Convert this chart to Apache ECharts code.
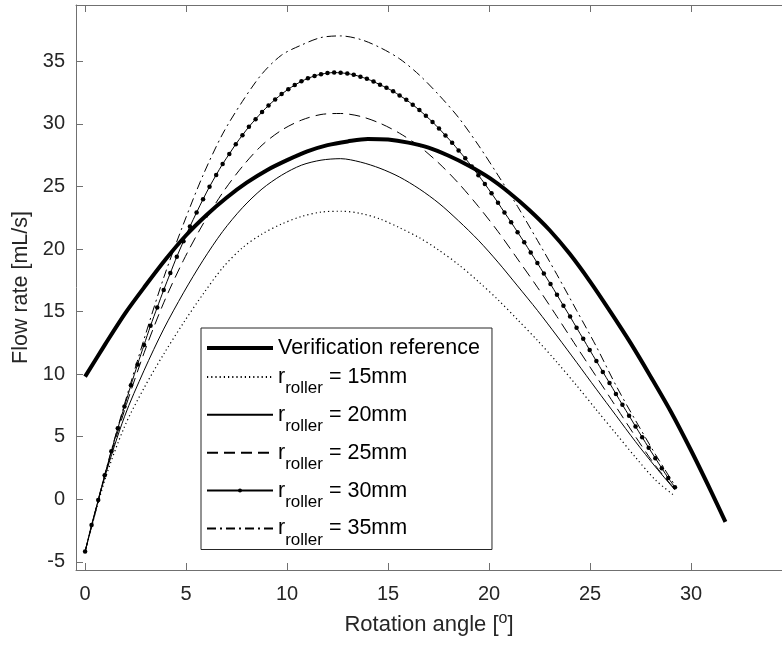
<!DOCTYPE html>
<html>
<head>
<meta charset="utf-8">
<title>Flow rate vs rotation angle</title>
<script src="https://cdn.jsdelivr.net/npm/echarts@6/dist/echarts.min.js"></script>
<style>
html,body{margin:0;padding:0;background:#fff;}
#chart{width:782px;height:645px;}
</style>
</head>
<body>
<div id="chart"></div>
<script>
// verification reference curve
var refAngle = [0,1,2,3,4,5,6,7,8,9,10,11,12,13,14,15,16,17,18,19,20,21,22,23,24,25,26,27,28,29,30,31,31.7];
var refFlow = [9.8,12.4,14.9,17.1,19.2,21.1,22.7,24.1,25.3,26.3,27.1,27.8,28.3,28.6,28.8,28.75,28.5,28.1,27.45,26.65,
  25.7,24.5,23.1,21.5,19.6,17.4,15.0,12.5,9.8,7.0,3.9,0.6,-1.8];

// roller curves (coarse sampling)
var rollerAngle = [0,0.97,1.95,2.92,3.89,4.87,5.84,6.81,7.79,8.76,9.73,10.71,11.68,12.65,13.63,14.60,
  15.57,16.55,17.52,18.49,19.47,20.44,21.41,22.39,23.36,24.33,25.31,26.28,27.25,28.23,29.20];
var flow15 = [-4.2,1.5,5.8,8.9,11.6,14.1,16.4,18.5,20.1,21.2,22.0,22.6,22.95,23.02,22.85,22.4,
  21.7,20.9,19.9,18.75,17.4,15.95,14.35,12.7,10.95,9.1,7.15,5.25,3.35,1.55,0.25];
var flow20 = [-4.2,1.75,6.6,10.3,13.6,16.5,19.1,21.4,23.3,24.8,25.9,26.7,27.1,27.22,26.95,26.45,
  25.75,24.8,23.65,22.25,20.7,18.95,17.05,15.1,13.05,10.95,8.8,6.7,4.6,2.6,0.75];
var flow25 = [-4.2,1.85,7.1,11.7,15.7,19.1,22.0,24.5,26.6,28.3,29.5,30.3,30.75,30.83,30.6,30.05,
  29.25,28.2,26.85,25.25,23.4,21.4,19.2,16.95,14.6,12.2,9.8,7.4,5.0,2.7,0.8];
var flow35 = [-4.2,1.95,7.6,12.8,17.7,22.0,25.9,29.2,31.8,34.0,35.5,36.3,36.9,37.03,36.75,36.1,
  35.2,33.9,32.3,30.5,28.3,25.9,23.4,20.7,17.95,15.1,12.2,9.1,6.3,3.6,1.1];

// r = 30mm curve, drawn with a marker at every sample
var rollerAngleFine = [0,0.32,0.65,0.97,1.30,1.62,1.95,2.27,2.60,2.92,
  3.24,3.57,3.89,4.22,4.54,4.87,5.19,5.52,5.84,6.16,
  6.49,6.81,7.14,7.46,7.79,8.11,8.44,8.76,9.08,9.41,
  9.73,10.06,10.38,10.71,11.03,11.36,11.68,12.00,12.33,12.65,
  12.98,13.30,13.63,13.95,14.28,14.60,14.92,15.25,15.57,15.90,
  16.22,16.55,16.87,17.20,17.52,17.84,18.17,18.49,18.82,19.14,
  19.47,19.79,20.12,20.44,20.76,21.09,21.41,21.74,22.06,22.39,
  22.71,23.04,23.36,23.68,24.01,24.33,24.66,24.98,25.31,25.63,
  25.96,26.28,26.60,26.93,27.25,27.58,27.90,28.23,28.55,28.87,29.20];
var flow30 = [-4.18,-2.05,-0.06,1.92,3.84,5.67,7.42,9.12,10.78,12.34,
  13.87,15.33,16.72,18.08,19.38,20.62,21.80,22.92,23.98,24.98,
  25.92,26.80,27.60,28.38,29.10,29.77,30.38,30.95,31.47,31.95,
  32.38,32.77,33.10,33.40,33.64,33.83,33.97,34.06,34.10,34.08,
  34.02,33.92,33.77,33.60,33.38,33.13,32.88,32.60,32.27,31.92,
  31.53,31.10,30.64,30.15,29.63,29.07,28.50,27.88,27.25,26.60,
  25.90,25.20,24.45,23.70,22.92,22.14,21.35,20.54,19.72,18.88,
  18.04,17.20,16.34,15.47,14.60,13.71,12.82,11.93,11.05,10.18,
  9.30,8.42,7.55,6.68,5.82,4.96,4.12,3.29,2.48,1.70,0.96];

var seriesNames = ['Verification reference','r_roller = 15mm','r_roller = 20mm','r_roller = 25mm','r_roller = 30mm','r_roller = 35mm'];

var font = 'Liberation Sans, Arial, Helvetica, sans-serif';
var axisColor = '#707070';
var textColor = '#262626';

function zip(xs, ys){
  var out = [];
  for(var i=0;i<xs.length;i++){
    out.push([xs[i], ys[i]]);
  }
  return out;
}
function tickFmt(v){
  return (Math.abs(v % 5) < 1e-9) ? String(v) : '';
}

var myChart = echarts.init(document.getElementById('chart'), null, {renderer:'canvas'});

// legend entries: only the 30mm one keeps its dot
var legendData = [
  {name: seriesNames[0], itemStyle: {opacity: 0}, lineStyle: {width: 4}},
  {name: seriesNames[1], itemStyle: {opacity: 0}},
  {name: seriesNames[2], itemStyle: {opacity: 0}},
  {name: seriesNames[3], itemStyle: {opacity: 0}},
  {name: seriesNames[4]},
  {name: seriesNames[5], itemStyle: {opacity: 0}}
];

var option = {
  animation: false,
  backgroundColor: '#fff',
  grid: {left: 76, right: -8, top: 5, bottom: 75},
  legend: {
    orient: 'vertical',
    left: 201,
    top: 328,
    padding: [9, 12, 1, 4],
    itemGap: 6.9,
    itemWidth: 66,
    itemHeight: 5,
    selectedMode: false,
    backgroundColor: '#fff',
    borderColor: '#262626',
    borderWidth: 1,
    borderRadius: 0,
    data: legendData,
    formatter: function(name){
      if(name.indexOf('r_roller') === 0){
        return '{m|r}{s|roller}{m|' + name.slice(8) + '}';
      }
      return '{v|' + name + '}';
    },
    textStyle: {
      fontFamily: font,
      color: '#000',
      fontSize: 21.5,
      rich: {
        v: {fontFamily: font, fontSize: 21.5, color: '#000', lineHeight: 36},
        m: {fontFamily: font, fontSize: 21.5, color: '#000', lineHeight: 40, verticalAlign: 'middle'},
        s: {fontFamily: font, fontSize: 17, color: '#000', lineHeight: 20, verticalAlign: 'bottom'}
      }
    }
  },
  xAxis: [{
    type: 'value',
    min: -0.45,
    max: 34.5,
    splitNumber: 7,
    position: 'bottom',
    axisLine: {show: true, onZero: false, lineStyle: {color: axisColor, width: 1}},
    axisTick: {show: true, inside: true, length: 7, lineStyle: {color: axisColor}},
    splitLine: {show: false},
    axisLabel: {color: textColor, fontSize: 20, fontFamily: font, margin: 14,
      showMinLabel: false, showMaxLabel: false, formatter: tickFmt},
    name: 'Rotation angle [{sup|o}]',
    nameLocation: 'middle',
    nameGap: 41,
    nameTextStyle: {color: textColor, fontSize: 22, fontFamily: font, lineHeight: 28,
      rich: {sup: {fontSize: 16, fontFamily: font, color: textColor, lineHeight: 12, verticalAlign: 'top'}}}
  }, {
    type: 'value',
    min: -0.45,
    max: 34.5,
    splitNumber: 7,
    position: 'top',
    axisLine: {show: true, onZero: false, lineStyle: {color: axisColor, width: 1}},
    axisTick: {show: true, inside: true, length: 7, lineStyle: {color: axisColor}},
    splitLine: {show: false},
    axisLabel: {show: false}
  }],
  yAxis: {
    type: 'value',
    min: -5.65,
    max: 39.5,
    splitNumber: 9,
    axisLine: {show: true, onZero: false, lineStyle: {color: axisColor, width: 1}},
    axisTick: {show: true, inside: true, length: 7, lineStyle: {color: axisColor}},
    splitLine: {show: false},
    axisLabel: {color: textColor, fontSize: 20, fontFamily: font, margin: 11,
      showMinLabel: false, showMaxLabel: false, formatter: tickFmt},
    name: 'Flow rate [mL/s]',
    nameLocation: 'middle',
    nameGap: 43,
    nameTextStyle: {color: textColor, fontSize: 21.5, fontFamily: font}
  },
  series: [
    {
      name: seriesNames[0], type: 'line', data: zip(refAngle, refFlow),
      smooth: 0.3, symbol: 'none', color: '#000',
      lineStyle: {color: '#000', width: 4}
    },
    {
      name: seriesNames[1], type: 'line', data: zip(rollerAngle, flow15),
      smooth: 0.3, symbol: 'none', color: '#000',
      lineStyle: {color: '#000', width: 1.2, type: [1.2, 3]}
    },
    {
      name: seriesNames[2], type: 'line', data: zip(rollerAngle, flow20),
      smooth: 0.3, symbol: 'none', color: '#000',
      lineStyle: {color: '#000', width: 1}
    },
    {
      name: seriesNames[3], type: 'line', data: zip(rollerAngle, flow25),
      smooth: 0.3, symbol: 'none', color: '#000',
      lineStyle: {color: '#000', width: 1, type: [11, 6]}
    },
    {
      name: seriesNames[4], type: 'line', data: zip(rollerAngleFine, flow30),
      smooth: 0.3, symbol: 'circle', symbolSize: 4.5, showSymbol: true, color: '#000',
      itemStyle: {color: '#000'},
      lineStyle: {color: '#000', width: 1}
    },
    {
      name: seriesNames[5], type: 'line', data: zip(rollerAngle, flow35),
      smooth: 0.3, symbol: 'none', color: '#000',
      lineStyle: {color: '#000', width: 1, type: [9, 4, 2, 4]}
    }
  ]
};

if(option && typeof option === 'object'){
  myChart.setOption(option, true);
}
</script>
</body>
</html>
